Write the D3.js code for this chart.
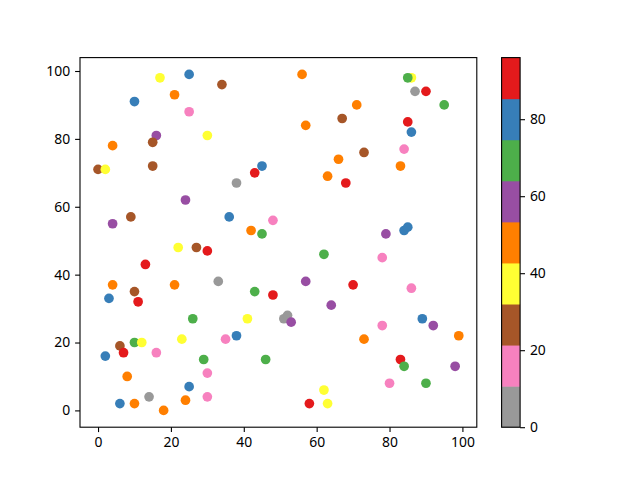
<!DOCTYPE html>
<html>
<head>
<meta charset="utf-8">
<script src="https://cdn.jsdelivr.net/npm/d3@7"></script>
<style>
  body { margin: 0; background: #fff; }
  text { font-family: "Noto Sans", sans-serif; }
</style>
</head>
<body>
<script>
//// DATA

const xs = [17,25,34,21,10,25,16,15,30,4,0,2,15,45,43,38,24,9,36,4,48,42,45,
  56,86,85,87,90,95,71,67,57,85,86,84,73,66,83,63,68,79,84,85,
  22,27,30,13,4,21,33,10,3,11,43,48,26,41,23,35,38,6,7,10,12,2,16,29,46,8,30,25,14,30,24,6,10,18,
  62,78,57,70,86,64,51,52,53,78,89,92,99,73,83,84,98,80,90,62,58,63]
const ys = [98,99,96,93,91,88,81,79,81,78,71,71,72,72,70,67,62,57,57,55,56,53,52,
  99,98,98,94,94,90,90,86,84,85,82,77,76,74,72,69,67,52,53,54,
  48,48,47,43,37,37,38,35,33,32,35,34,27,27,21,21,22,19,17,20,20,16,17,15,15,10,11,7,4,4,3,2,2,0,
  46,45,38,37,36,31,27,28,26,25,27,25,22,21,15,13,13,8,8,6,2,2]
// colour values (Set1 reversed colormap, 0..96)
const cs = [37,80,27,48,80,16,59,27,37,48,27,37,27,80,91,5,59,27,80,59,16,48,69,
  48,37,69,5,96,69,48,27,48,91,80,16,27,48,48,48,91,59,80,80,
  37,27,91,91,48,48,5,27,80,91,69,91,69,37,37,16,80,27,91,69,37,80,16,69,69,48,16,80,0,16,48,80,48,48,
  69,16,59,91,16,59,5,5,59,16,80,59,48,48,91,69,59,16,69,37,91,37]

const set1r = ["#999999","#f781bf","#a65628","#ffff33","#ff7f00","#984ea3","#4daf4a","#377eb8","#e41a1c"]
const xTicks = [0,20,40,60,80,100]
const yTicks = [0,20,40,60,80,100]
const cTicks = [0,20,40,60,80]

//// LAYOUT

const W = 640, H = 480
const ax = {left: 80, right: 476.8, top: 57.6, bottom: 427.2}
const cb = {left: 501.6, right: 520.1}

const svg = d3.select("body").append("svg")
  .attr("width", W)
  .attr("height", H)

// matplotlib-style 5% margins around the data
function padded(vals) {
  const [lo, hi] = d3.extent(vals)
  const m = (hi - lo) * 0.05
  return [lo - m, hi + m]
}

const x = d3.scaleLinear().domain(padded(xs)).range([ax.left, ax.right])
const y = d3.scaleLinear().domain(padded(ys)).range([ax.bottom, ax.top])
const cDomain = d3.extent(cs)
const cy = d3.scaleLinear().domain(cDomain).range([ax.bottom, ax.top])
const color = d3.scaleQuantize().domain(cDomain).range(set1r)

const pts = xs.map((v, i) => ({x: v, y: ys[i], c: cs[i]}))

// points
svg.append("g")
  .selectAll("circle")
  .data(pts)
  .join("circle")
  .attr("cx", d => x(d.x))
  .attr("cy", d => y(d.y))
  .attr("r", 4.85)
  .attr("fill", d => color(d.c))

// axes
function styleAxis(g) {
  g.select(".domain").remove()
  g.selectAll(".tick line").attr("stroke", "#000").attr("stroke-width", 1.1)
  g.selectAll(".tick text").attr("fill", "#000").style("font-size", "13.9px")
    .style("font-family", "Noto Sans, sans-serif")
}

svg.append("g")
  .attr("transform", `translate(0,${ax.bottom})`)
  .call(d3.axisBottom(x).tickValues(xTicks).tickSize(4.9).tickPadding(4.9).tickFormat(d3.format("d")))
  .call(styleAxis)

svg.append("g")
  .attr("transform", `translate(${ax.left},0)`)
  .call(d3.axisLeft(y).tickValues(yTicks).tickSize(4.9).tickPadding(4.9).tickFormat(d3.format("d")))
  .call(styleAxis)

svg.append("rect")
  .attr("x", ax.left).attr("y", ax.top)
  .attr("width", ax.right - ax.left).attr("height", ax.bottom - ax.top)
  .attr("fill", "none").attr("stroke", "#000").attr("stroke-width", 1.1)

// colorbar: one band per colour
const bands = set1r.map(c => {
  const [lo, hi] = color.invertExtent(c)
  return {c, lo, hi}
})
svg.append("g")
  .selectAll("rect")
  .data(bands)
  .join("rect")
  .attr("x", cb.left)
  .attr("width", cb.right - cb.left)
  .attr("y", d => cy(d.hi))
  .attr("height", d => cy(d.lo) - cy(d.hi) + 0.5)
  .attr("fill", d => d.c)

svg.append("g")
  .attr("transform", `translate(${cb.right},0)`)
  .call(d3.axisRight(cy).tickValues(cTicks).tickSize(4.9).tickPadding(4.9).tickFormat(d3.format("d")))
  .call(styleAxis)

svg.append("rect")
  .attr("x", cb.left).attr("y", ax.top)
  .attr("width", cb.right - cb.left).attr("height", ax.bottom - ax.top)
  .attr("fill", "none").attr("stroke", "#000").attr("stroke-width", 1.1)
</script>
</body>
</html>
